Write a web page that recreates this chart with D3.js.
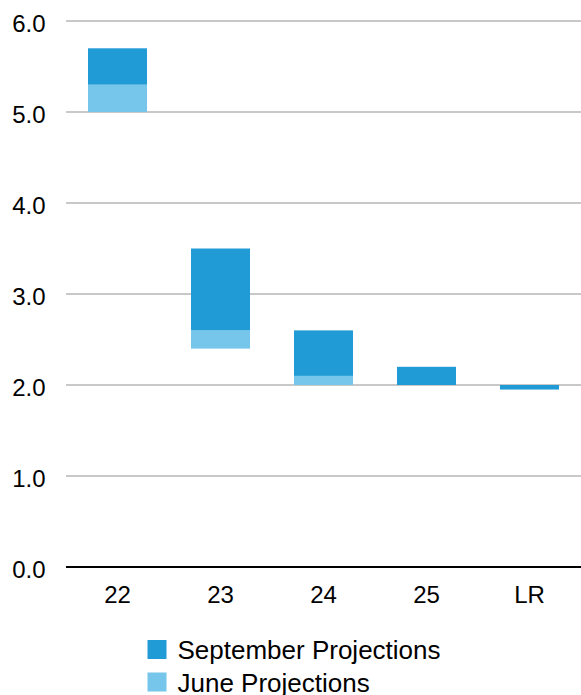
<!DOCTYPE html>
<html>
<head>
<meta charset="utf-8">
<script src="https://cdn.jsdelivr.net/npm/d3@7/dist/d3.min.js"></script>
<style>
  html, body { margin: 0; padding: 0; background: #ffffff; }
  svg { display: block; font-family: "Liberation Sans", Arial, sans-serif; }
</style>
</head>
<body>
<svg id="chart" width="581" height="695"></svg>
<script>
// Projection ranges (low/high) per horizon
const categories = ["22", "23", "24", "25", "LR"];
const septemberLow  = [5.3, 2.6, 2.1, 2.0, 1.95];
const septemberHigh = [5.7, 3.5, 2.6, 2.2, 2.0];
const juneLow  = [5.0, 2.4, 2.0, null, null];
const juneHigh = [5.3, 2.6, 2.1, null, null];
const yTicks = [0, 1, 2, 3, 4, 5, 6];
const seriesNames = ["September Projections", "June Projections"];
const colors = ["#219bd6", "#76c6ec"];

const svg = d3.select("#chart");
const plotLeft = 66, plotRight = 581, plotTop = 21, plotBottom = 567;

const x = d3.scaleBand()
  .domain(categories)
  .range([plotLeft, plotRight])
  .paddingInner(0.427)
  .paddingOuter(0.2136);

const y = d3.scaleLinear().domain([0, 6]).range([plotBottom, plotTop]);

// Horizontal gridlines
svg.append("g")
  .selectAll("line")
  .data(yTicks.filter(t => t > 0))
  .join("line")
  .attr("x1", plotLeft).attr("x2", plotRight)
  .attr("y1", d => y(d)).attr("y2", d => y(d))
  .attr("stroke", "#c8c8c8")
  .attr("stroke-width", 2);

// Y tick labels
svg.append("g")
  .selectAll("text")
  .data(yTicks)
  .join("text")
  .attr("x", 45.5)
  .attr("y", d => y(d) + 10.5)
  .attr("text-anchor", "end")
  .attr("font-size", 24)
  .attr("fill", "#000")
  .text(d => d.toFixed(1));

// June ranges (drawn first, September overlaps)
const juneData = categories.map((c, i) => ({ c, lo: juneLow[i], hi: juneHigh[i] }))
  .filter(d => d.lo != null);
svg.append("g")
  .selectAll("rect")
  .data(juneData)
  .join("rect")
  .attr("x", d => x(d.c))
  .attr("width", x.bandwidth())
  .attr("y", d => y(d.hi))
  .attr("height", d => y(d.lo) - y(d.hi))
  .attr("fill", colors[1]);

// September ranges
const septData = categories.map((c, i) => ({ c, lo: septemberLow[i], hi: septemberHigh[i] }));
svg.append("g")
  .selectAll("rect")
  .data(septData)
  .join("rect")
  .attr("x", d => x(d.c))
  .attr("width", x.bandwidth())
  .attr("y", d => y(d.hi))
  .attr("height", d => y(d.lo) - y(d.hi))
  .attr("fill", colors[0]);

// Zero axis line
svg.append("line")
  .attr("x1", plotLeft).attr("x2", plotRight)
  .attr("y1", y(0)).attr("y2", y(0))
  .attr("stroke", "#000")
  .attr("stroke-width", 2);

// X category labels
svg.append("g")
  .selectAll("text")
  .data(categories)
  .join("text")
  .attr("x", d => x(d) + x.bandwidth() / 2)
  .attr("y", y(0) + 36)
  .attr("text-anchor", "middle")
  .attr("font-size", 24)
  .attr("fill", "#000")
  .text(d => d);

// Legend
const legend = svg.append("g")
  .selectAll("g")
  .data(seriesNames)
  .join("g")
  .attr("transform", (d, i) => `translate(147.5, ${640 + i * 32.5})`);
legend.append("rect")
  .attr("width", 19).attr("height", 19)
  .attr("fill", (d, i) => colors[i]);
legend.append("text")
  .attr("x", 30)
  .attr("y", 19)
  .attr("font-size", 26)
  .attr("fill", "#000")
  .text(d => d);
</script>
</body>
</html>
